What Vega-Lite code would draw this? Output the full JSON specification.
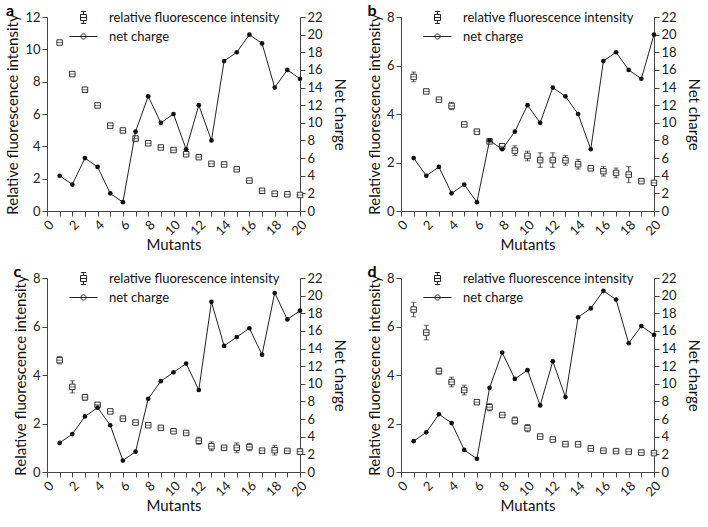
{
  "$schema": "https://vega.github.io/schema/vega-lite/v6.json",
  "padding": {"left": 5, "top": 3, "right": 0, "bottom": 0},
  "data": {
    "values": [
      {"p": "a", "m": 1, "f": 10.42, "e": 0.12, "c": 4},
      {"p": "a", "m": 2, "f": 8.47, "e": 0.12, "c": 3},
      {"p": "a", "m": 3, "f": 7.5, "e": 0.08, "c": 6},
      {"p": "a", "m": 4, "f": 6.53, "e": 0.12, "c": 5},
      {"p": "a", "m": 5, "f": 5.28, "e": 0.1, "c": 2},
      {"p": "a", "m": 6, "f": 4.98, "e": 0.06, "c": 1},
      {"p": "a", "m": 7, "f": 4.48, "e": 0.15, "c": 9},
      {"p": "a", "m": 8, "f": 4.19, "e": 0.06, "c": 13},
      {"p": "a", "m": 9, "f": 3.93, "e": 0.06, "c": 10},
      {"p": "a", "m": 10, "f": 3.77, "e": 0.08, "c": 11},
      {"p": "a", "m": 11, "f": 3.51, "e": 0.1, "c": 7},
      {"p": "a", "m": 12, "f": 3.33, "e": 0.12, "c": 12},
      {"p": "a", "m": 13, "f": 2.92, "e": 0.06, "c": 8},
      {"p": "a", "m": 14, "f": 2.88, "e": 0.06, "c": 17},
      {"p": "a", "m": 15, "f": 2.58, "e": 0.06, "c": 18},
      {"p": "a", "m": 16, "f": 1.88, "e": 0.06, "c": 20},
      {"p": "a", "m": 17, "f": 1.25, "e": 0.08, "c": 19},
      {"p": "a", "m": 18, "f": 1.07, "e": 0.06, "c": 14},
      {"p": "a", "m": 19, "f": 1.03, "e": 0.05, "c": 16},
      {"p": "a", "m": 20, "f": 0.99, "e": 0.05, "c": 15},
      {"p": "b", "m": 1, "f": 5.53, "e": 0.2, "c": 6},
      {"p": "b", "m": 2, "f": 4.93, "e": 0.05, "c": 4},
      {"p": "b", "m": 3, "f": 4.59, "e": 0.05, "c": 5},
      {"p": "b", "m": 4, "f": 4.33, "e": 0.15, "c": 2},
      {"p": "b", "m": 5, "f": 3.57, "e": 0.07, "c": 3},
      {"p": "b", "m": 6, "f": 3.27, "e": 0.1, "c": 1},
      {"p": "b", "m": 7, "f": 2.87, "e": 0.07, "c": 8},
      {"p": "b", "m": 8, "f": 2.67, "e": 0.07, "c": 7},
      {"p": "b", "m": 9, "f": 2.49, "e": 0.2, "c": 9},
      {"p": "b", "m": 10, "f": 2.27, "e": 0.2, "c": 12},
      {"p": "b", "m": 11, "f": 2.1, "e": 0.3, "c": 10},
      {"p": "b", "m": 12, "f": 2.1, "e": 0.3, "c": 14},
      {"p": "b", "m": 13, "f": 2.09, "e": 0.2, "c": 13},
      {"p": "b", "m": 14, "f": 1.93, "e": 0.2, "c": 11},
      {"p": "b", "m": 15, "f": 1.76, "e": 0.07, "c": 7},
      {"p": "b", "m": 16, "f": 1.64, "e": 0.2, "c": 17},
      {"p": "b", "m": 17, "f": 1.57, "e": 0.2, "c": 18},
      {"p": "b", "m": 18, "f": 1.5, "e": 0.33, "c": 16},
      {"p": "b", "m": 19, "f": 1.23, "e": 0.08, "c": 15},
      {"p": "b", "m": 20, "f": 1.16, "e": 0.1, "c": 20},
      {"p": "c", "m": 1, "f": 4.61, "e": 0.15, "c": 3.3},
      {"p": "c", "m": 2, "f": 3.51, "e": 0.25, "c": 4.3},
      {"p": "c", "m": 3, "f": 3.08, "e": 0.12, "c": 6.3},
      {"p": "c", "m": 4, "f": 2.77, "e": 0.08, "c": 7.3},
      {"p": "c", "m": 5, "f": 2.5, "e": 0.06, "c": 5.3},
      {"p": "c", "m": 6, "f": 2.2, "e": 0.1, "c": 1.3},
      {"p": "c", "m": 7, "f": 2.04, "e": 0.08, "c": 2.3},
      {"p": "c", "m": 8, "f": 1.93, "e": 0.06, "c": 8.3},
      {"p": "c", "m": 9, "f": 1.82, "e": 0.06, "c": 10.3},
      {"p": "c", "m": 10, "f": 1.68, "e": 0.06, "c": 11.3},
      {"p": "c", "m": 11, "f": 1.61, "e": 0.06, "c": 12.3},
      {"p": "c", "m": 12, "f": 1.29, "e": 0.15, "c": 9.3},
      {"p": "c", "m": 13, "f": 1.06, "e": 0.18, "c": 19.3},
      {"p": "c", "m": 14, "f": 1.0, "e": 0.08, "c": 14.3},
      {"p": "c", "m": 15, "f": 1.0, "e": 0.2, "c": 15.3},
      {"p": "c", "m": 16, "f": 1.03, "e": 0.15, "c": 16.3},
      {"p": "c", "m": 17, "f": 0.88, "e": 0.08, "c": 13.3},
      {"p": "c", "m": 18, "f": 0.9, "e": 0.2, "c": 20.3},
      {"p": "c", "m": 19, "f": 0.87, "e": 0.1, "c": 17.3},
      {"p": "c", "m": 20, "f": 0.84, "e": 0.12, "c": 18.3},
      {"p": "d", "m": 1, "f": 6.7, "e": 0.3, "c": 3.5},
      {"p": "d", "m": 2, "f": 5.75, "e": 0.3, "c": 4.5},
      {"p": "d", "m": 3, "f": 4.16, "e": 0.13, "c": 6.55},
      {"p": "d", "m": 4, "f": 3.71, "e": 0.2, "c": 5.55},
      {"p": "d", "m": 5, "f": 3.38, "e": 0.2, "c": 2.5},
      {"p": "d", "m": 6, "f": 2.88, "e": 0.08, "c": 1.5},
      {"p": "d", "m": 7, "f": 2.67, "e": 0.15, "c": 9.55},
      {"p": "d", "m": 8, "f": 2.35, "e": 0.06, "c": 13.55},
      {"p": "d", "m": 9, "f": 2.12, "e": 0.15, "c": 10.55},
      {"p": "d", "m": 10, "f": 1.81, "e": 0.15, "c": 11.55},
      {"p": "d", "m": 11, "f": 1.46, "e": 0.1, "c": 7.55},
      {"p": "d", "m": 12, "f": 1.34, "e": 0.08, "c": 12.55},
      {"p": "d", "m": 13, "f": 1.15, "e": 0.08, "c": 8.5},
      {"p": "d", "m": 14, "f": 1.14, "e": 0.08, "c": 17.55},
      {"p": "d", "m": 15, "f": 0.97, "e": 0.12, "c": 18.55},
      {"p": "d", "m": 16, "f": 0.88, "e": 0.05, "c": 20.55},
      {"p": "d", "m": 17, "f": 0.86, "e": 0.05, "c": 19.55},
      {"p": "d", "m": 18, "f": 0.84, "e": 0.05, "c": 14.6},
      {"p": "d", "m": 19, "f": 0.8, "e": 0.05, "c": 16.55},
      {"p": "d", "m": 20, "f": 0.78, "e": 0.05, "c": 15.55}
    ]
  },
  "columns": 2,
  "spacing": {"row": 11, "column": 20},
  "concat": [
    {
      "title": {"text": "a"},
      "width": 253, "height": 194,
      "transform": [{"filter": "datum.p === 'a'"}],
      "layer": [
        {"layer": [
          {"mark": {"type": "errorbar", "color": "#333", "ticks": {"size": 5}},
           "encoding": {
             "x": {"field": "m", "type": "quantitative", "scale": {"domain": [0, 20]}, "axis": {"title": "Mutants", "values": [0,1,2,3,4,5,6,7,8,9,10,11,12,13,14,15,16,17,18,19,20], "tickCount": 21, "labelExpr": "datum.value % 2 === 0 ? datum.label : ''", "labelAngle": 315, "titlePadding": 0}},
             "y": {"field": "f", "type": "quantitative", "scale": {"domain": [0, 12]}, "axis": {"title": "Relative fluorescence intensity", "values": [0,2,4,6,8,10,12], "tickCount": 7}},
             "yError": {"field": "e"}}},
          {"mark": {"type": "point", "shape": "square", "filled": true, "fill": "white", "stroke": "#333", "strokeWidth": 1, "size": 30, "opacity": 1},
           "encoding": {"x": {"field": "m", "type": "quantitative"}, "y": {"field": "f", "type": "quantitative"}}},
          {"mark": {"type": "tick", "orient": "horizontal", "size": 6, "thickness": 1, "color": "#333"},
           "encoding": {"x": {"field": "m", "type": "quantitative"}, "y": {"field": "f", "type": "quantitative"}}}
        ]},
        {"layer": [
          {"mark": {"type": "line", "color": "#222", "strokeWidth": 1},
           "encoding": {"x": {"field": "m", "type": "quantitative"}, "y": {"field": "c", "type": "quantitative", "scale": {"domain": [0, 22]}, "axis": {"title": "Net charge", "values": [0,2,4,6,8,10,12,14,16,18,20,22], "tickCount": 12, "titlePadding": 9}}}},
          {"mark": {"type": "point", "filled": true, "color": "#111", "size": 22, "opacity": 1},
           "encoding": {"x": {"field": "m", "type": "quantitative"}, "y": {"field": "c", "type": "quantitative"}}}
        ]},
        {"transform": [{"filter": "datum.m === 1"}, {"fold": ["f", "c"]}],
         "mark": {"type": "point", "opacity": 0, "stroke": "#222", "strokeWidth": 1},
         "encoding": {
           "shape": {"field": "key", "type": "nominal", "scale": {"domain": ["f", "c"], "range": ["M-0.35,-0.35H0.35V0.35H-0.35ZM-0.35,0H0.35M0,-0.35V-0.7M-0.3,-0.7H0.3M0,0.35V0.7M-0.3,0.7H0.3", "M-1.65,0H1.65M0.3,0A0.3,0.3,0,1,1,-0.3,0A0.3,0.3,0,1,1,0.3,0Z"]}, "legend": {"orient": "none", "legendX": 27, "legendY": -9, "labelExpr": "datum.label === 'f' ? 'relative fluorescence intensity' : 'net charge'"}},
           "fill": {"field": "key", "type": "nominal", "scale": {"domain": ["f", "c"], "range": ["white", "#111"]}, "legend": {"orient": "none", "legendX": 27, "legendY": -9, "labelExpr": "datum.label === 'f' ? 'relative fluorescence intensity' : 'net charge'"}}}}
      ],
      "resolve": {"scale": {"y": "independent"}}
    },
    {
      "title": {"text": "b"},
      "width": 253, "height": 194,
      "transform": [{"filter": "datum.p === 'b'"}],
      "layer": [
        {"layer": [
          {"mark": {"type": "errorbar", "color": "#333", "ticks": {"size": 5}},
           "encoding": {
             "x": {"field": "m", "type": "quantitative", "scale": {"domain": [0, 20]}, "axis": {"title": "Mutants", "values": [0,1,2,3,4,5,6,7,8,9,10,11,12,13,14,15,16,17,18,19,20], "tickCount": 21, "labelExpr": "datum.value % 2 === 0 ? datum.label : ''", "labelAngle": 315, "titlePadding": 0}},
             "y": {"field": "f", "type": "quantitative", "scale": {"domain": [0, 8]}, "axis": {"title": "Relative fluorescence intensity", "values": [0,2,4,6,8], "tickCount": 5}},
             "yError": {"field": "e"}}},
          {"mark": {"type": "point", "shape": "square", "filled": true, "fill": "white", "stroke": "#333", "strokeWidth": 1, "size": 30, "opacity": 1},
           "encoding": {"x": {"field": "m", "type": "quantitative"}, "y": {"field": "f", "type": "quantitative"}}},
          {"mark": {"type": "tick", "orient": "horizontal", "size": 6, "thickness": 1, "color": "#333"},
           "encoding": {"x": {"field": "m", "type": "quantitative"}, "y": {"field": "f", "type": "quantitative"}}}
        ]},
        {"layer": [
          {"mark": {"type": "line", "color": "#222", "strokeWidth": 1},
           "encoding": {"x": {"field": "m", "type": "quantitative"}, "y": {"field": "c", "type": "quantitative", "scale": {"domain": [0, 22]}, "axis": {"title": "Net charge", "values": [0,2,4,6,8,10,12,14,16,18,20,22], "tickCount": 12, "titlePadding": 9}}}},
          {"mark": {"type": "point", "filled": true, "color": "#111", "size": 22, "opacity": 1},
           "encoding": {"x": {"field": "m", "type": "quantitative"}, "y": {"field": "c", "type": "quantitative"}}}
        ]},
        {"transform": [{"filter": "datum.m === 1"}, {"fold": ["f", "c"]}],
         "mark": {"type": "point", "opacity": 0, "stroke": "#222", "strokeWidth": 1},
         "encoding": {
           "shape": {"field": "key", "type": "nominal", "scale": {"domain": ["f", "c"], "range": ["M-0.35,-0.35H0.35V0.35H-0.35ZM-0.35,0H0.35M0,-0.35V-0.7M-0.3,-0.7H0.3M0,0.35V0.7M-0.3,0.7H0.3", "M-1.65,0H1.65M0.3,0A0.3,0.3,0,1,1,-0.3,0A0.3,0.3,0,1,1,0.3,0Z"]}, "legend": {"orient": "none", "legendX": 27, "legendY": -9, "labelExpr": "datum.label === 'f' ? 'relative fluorescence intensity' : 'net charge'"}},
           "fill": {"field": "key", "type": "nominal", "scale": {"domain": ["f", "c"], "range": ["white", "#111"]}, "legend": {"orient": "none", "legendX": 27, "legendY": -9, "labelExpr": "datum.label === 'f' ? 'relative fluorescence intensity' : 'net charge'"}}}}
      ],
      "resolve": {"scale": {"y": "independent"}}
    },
    {
      "title": {"text": "c"},
      "width": 253, "height": 194,
      "transform": [{"filter": "datum.p === 'c'"}],
      "layer": [
        {"layer": [
          {"mark": {"type": "errorbar", "color": "#333", "ticks": {"size": 5}},
           "encoding": {
             "x": {"field": "m", "type": "quantitative", "scale": {"domain": [0, 20]}, "axis": {"title": "Mutants", "values": [0,1,2,3,4,5,6,7,8,9,10,11,12,13,14,15,16,17,18,19,20], "tickCount": 21, "labelExpr": "datum.value % 2 === 0 ? datum.label : ''", "labelAngle": 315, "titlePadding": 0}},
             "y": {"field": "f", "type": "quantitative", "scale": {"domain": [0, 8]}, "axis": {"title": "Relative fluorescence intensity", "values": [0,2,4,6,8], "tickCount": 5}},
             "yError": {"field": "e"}}},
          {"mark": {"type": "point", "shape": "square", "filled": true, "fill": "white", "stroke": "#333", "strokeWidth": 1, "size": 30, "opacity": 1},
           "encoding": {"x": {"field": "m", "type": "quantitative"}, "y": {"field": "f", "type": "quantitative"}}},
          {"mark": {"type": "tick", "orient": "horizontal", "size": 6, "thickness": 1, "color": "#333"},
           "encoding": {"x": {"field": "m", "type": "quantitative"}, "y": {"field": "f", "type": "quantitative"}}}
        ]},
        {"layer": [
          {"mark": {"type": "line", "color": "#222", "strokeWidth": 1},
           "encoding": {"x": {"field": "m", "type": "quantitative"}, "y": {"field": "c", "type": "quantitative", "scale": {"domain": [0, 22]}, "axis": {"title": "Net charge", "values": [0,2,4,6,8,10,12,14,16,18,20,22], "tickCount": 12, "titlePadding": 9}}}},
          {"mark": {"type": "point", "filled": true, "color": "#111", "size": 22, "opacity": 1},
           "encoding": {"x": {"field": "m", "type": "quantitative"}, "y": {"field": "c", "type": "quantitative"}}}
        ]},
        {"transform": [{"filter": "datum.m === 1"}, {"fold": ["f", "c"]}],
         "mark": {"type": "point", "opacity": 0, "stroke": "#222", "strokeWidth": 1},
         "encoding": {
           "shape": {"field": "key", "type": "nominal", "scale": {"domain": ["f", "c"], "range": ["M-0.35,-0.35H0.35V0.35H-0.35ZM-0.35,0H0.35M0,-0.35V-0.7M-0.3,-0.7H0.3M0,0.35V0.7M-0.3,0.7H0.3", "M-1.65,0H1.65M0.3,0A0.3,0.3,0,1,1,-0.3,0A0.3,0.3,0,1,1,0.3,0Z"]}, "legend": {"orient": "none", "legendX": 27, "legendY": -9, "labelExpr": "datum.label === 'f' ? 'relative fluorescence intensity' : 'net charge'"}},
           "fill": {"field": "key", "type": "nominal", "scale": {"domain": ["f", "c"], "range": ["white", "#111"]}, "legend": {"orient": "none", "legendX": 27, "legendY": -9, "labelExpr": "datum.label === 'f' ? 'relative fluorescence intensity' : 'net charge'"}}}}
      ],
      "resolve": {"scale": {"y": "independent"}}
    },
    {
      "title": {"text": "d"},
      "width": 253, "height": 194,
      "transform": [{"filter": "datum.p === 'd'"}],
      "layer": [
        {"layer": [
          {"mark": {"type": "errorbar", "color": "#333", "ticks": {"size": 5}},
           "encoding": {
             "x": {"field": "m", "type": "quantitative", "scale": {"domain": [0, 20]}, "axis": {"title": "Mutants", "values": [0,1,2,3,4,5,6,7,8,9,10,11,12,13,14,15,16,17,18,19,20], "tickCount": 21, "labelExpr": "datum.value % 2 === 0 ? datum.label : ''", "labelAngle": 315, "titlePadding": 0}},
             "y": {"field": "f", "type": "quantitative", "scale": {"domain": [0, 8]}, "axis": {"title": "Relative fluorescence intensity", "values": [0,2,4,6,8], "tickCount": 5}},
             "yError": {"field": "e"}}},
          {"mark": {"type": "point", "shape": "square", "filled": true, "fill": "white", "stroke": "#333", "strokeWidth": 1, "size": 30, "opacity": 1},
           "encoding": {"x": {"field": "m", "type": "quantitative"}, "y": {"field": "f", "type": "quantitative"}}},
          {"mark": {"type": "tick", "orient": "horizontal", "size": 6, "thickness": 1, "color": "#333"},
           "encoding": {"x": {"field": "m", "type": "quantitative"}, "y": {"field": "f", "type": "quantitative"}}}
        ]},
        {"layer": [
          {"mark": {"type": "line", "color": "#222", "strokeWidth": 1},
           "encoding": {"x": {"field": "m", "type": "quantitative"}, "y": {"field": "c", "type": "quantitative", "scale": {"domain": [0, 22]}, "axis": {"title": "Net charge", "values": [0,2,4,6,8,10,12,14,16,18,20,22], "tickCount": 12, "titlePadding": 9}}}},
          {"mark": {"type": "point", "filled": true, "color": "#111", "size": 22, "opacity": 1},
           "encoding": {"x": {"field": "m", "type": "quantitative"}, "y": {"field": "c", "type": "quantitative"}}}
        ]},
        {"transform": [{"filter": "datum.m === 1"}, {"fold": ["f", "c"]}],
         "mark": {"type": "point", "opacity": 0, "stroke": "#222", "strokeWidth": 1},
         "encoding": {
           "shape": {"field": "key", "type": "nominal", "scale": {"domain": ["f", "c"], "range": ["M-0.35,-0.35H0.35V0.35H-0.35ZM-0.35,0H0.35M0,-0.35V-0.7M-0.3,-0.7H0.3M0,0.35V0.7M-0.3,0.7H0.3", "M-1.65,0H1.65M0.3,0A0.3,0.3,0,1,1,-0.3,0A0.3,0.3,0,1,1,0.3,0Z"]}, "legend": {"orient": "none", "legendX": 27, "legendY": -9, "labelExpr": "datum.label === 'f' ? 'relative fluorescence intensity' : 'net charge'"}},
           "fill": {"field": "key", "type": "nominal", "scale": {"domain": ["f", "c"], "range": ["white", "#111"]}, "legend": {"orient": "none", "legendX": 27, "legendY": -9, "labelExpr": "datum.label === 'f' ? 'relative fluorescence intensity' : 'net charge'"}}}}
      ],
      "resolve": {"scale": {"y": "independent"}}
    }
  ],
  "resolve": {"scale": {"shape": "independent", "fill": "independent"}, "legend": {"shape": "independent", "fill": "independent"}},
  "config": {
    "font": "Lato",
    "view": {"stroke": null},
    "title": {"anchor": "start", "frame": "bounds", "fontSize": 16, "fontWeight": "bold", "color": "#000", "offset": -11},
    "axis": {"grid": false, "labelOverlap": false, "domainColor": "#444", "tickColor": "#444", "labelColor": "#222", "titleColor": "#111", "labelFontSize": 13, "titleFontSize": 15, "titleFontWeight": "normal", "tickSize": 5, "labelPadding": 2, "titlePadding": 4},
    "axisX": {"labelAngle": 315},
    "legend": {"title": null, "symbolSize": 290, "symbolStrokeWidth": 1, "labelFontSize": 13, "labelColor": "#111", "labelOffset": 16, "labelLimit": 300, "rowPadding": 1}
  }
}
